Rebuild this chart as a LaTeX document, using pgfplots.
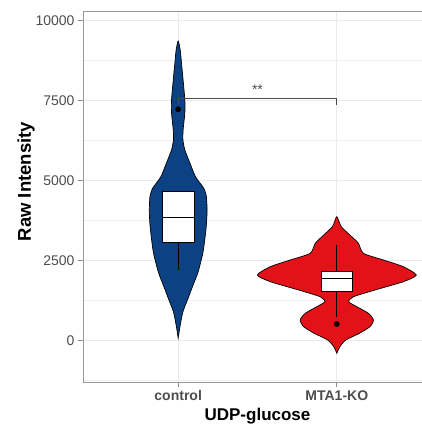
\documentclass[border=0pt]{standalone}
\usepackage{pgfplots}
\pgfplotsset{compat=1.18}
\usepackage{fontspec}
\setmainfont{Liberation Sans}
\definecolor{ctrlblue}{RGB}{12,66,132}
\definecolor{kored}{RGB}{226,18,24}
\definecolor{axisgray}{RGB}{77,77,77}
\definecolor{gridgray}{RGB}{235,235,235}
\begin{document}
\begin{tikzpicture}
\begin{axis}[
 scale only axis, width=349pt, height=371pt,
 xmin=0.4, xmax=2.6, ymin=-1290, ymax=10303,
 xtick={1,2}, xticklabels={control,MTA1-KO},
 ytick={0,2500,5000,7500,10000},
 minor ytick={-1250,1250,3750,6250,8750},
 grid=both,
 major grid style={gridgray, line width=0.8pt},
 minor grid style={gridgray!80, line width=0.6pt},
 tick pos=left,
 tick align=outside, major tick length=5pt, minor tick length=0pt,
 tick style={gray!90, line width=0.7pt},
 axis line style={gray!80, line width=0.7pt},
 /pgf/number format/assume math mode=true,
 /pgf/number format/1000 sep={},
 scaled y ticks=false,
 yticklabel style={font=\fontsize{14}{16}\selectfont, text=axisgray},
 xticklabel style={font=\fontsize{14}{16}\selectfont\bfseries, text=axisgray},
 xlabel={UDP-glucose}, ylabel={Raw Intensity},
 xlabel style={font=\fontsize{17}{19}\selectfont\bfseries},
 ylabel style={font=\fontsize{18.5}{20}\selectfont\bfseries, at={(axis description cs:-0.163,0.54)}, anchor=center},
]
% control violin
\addplot[fill=ctrlblue, draw=black, line width=0.7pt, smooth, tension=0.4] coordinates {
(1,84) (1.013,491) (1.030,906) (1.063,1334) (1.094,1741) (1.126,2156) (1.157,2781) (1.176,3522) (1.182,4031) (1.178,4500) (1.160,4772) (1.110,5116) (1.074,5553) (1.042,5959) (1.030,6272) (1.031,6584) (1.042,7116) (1.042,7522) (1.031,8147) (1.021,8669) (1.013,9081) (1,9366)
(0.987,9081) (0.979,8669) (0.969,8147) (0.958,7522) (0.958,7116) (0.969,6584) (0.970,6272) (0.958,5959) (0.926,5553) (0.890,5116) (0.840,4772) (0.822,4500) (0.818,4031) (0.824,3522) (0.843,2781) (0.874,2156) (0.906,1741) (0.937,1334) (0.970,906) (0.987,491) (1,84)
} -- cycle;
% MTA1-KO violin
\addplot[fill=kored, draw=black, line width=0.7pt, smooth, tension=0.4] coordinates {
(2,-394) (2.019,-188) (2.057,22) (2.142,231) (2.209,438) (2.231,647) (2.199,856) (2.126,1063) (2.075,1219) (2.105,1375) (2.240,1584) (2.419,1844) (2.501,2053) (2.419,2313) (2.294,2522) (2.168,2731) (2.136,3044) (2.094,3250) (2.028,3563) (2,3875)
(1.972,3563) (1.906,3250) (1.864,3044) (1.832,2731) (1.706,2522) (1.581,2313) (1.499,2053) (1.581,1844) (1.760,1584) (1.895,1375) (1.925,1219) (1.874,1063) (1.801,856) (1.769,647) (1.791,438) (1.858,231) (1.943,22) (1.981,-188) (2,-394)
} -- cycle;
% control box
\addplot[black, line width=0.7pt] coordinates {(1,2209) (1,3075)};
\addplot[fill=white, draw=black, line width=0.7pt] coordinates {(0.9,3075) (1.1,3075) (1.1,4656) (0.9,4656)} -- cycle;
\addplot[black, line width=1.4pt] coordinates {(0.9,3856) (1.1,3856)};
\addplot[only marks, mark=*, mark size=2.6pt, black] coordinates {(1,7231)};
% MTA1-KO box
\addplot[black, line width=0.7pt] coordinates {(2,750) (2,1531)};
\addplot[black, line width=0.7pt] coordinates {(2,2178) (2,2990)};
\addplot[fill=white, draw=black, line width=0.7pt] coordinates {(1.9,1531) (2.1,1531) (2.1,2178) (1.9,2178)} -- cycle;
\addplot[black, line width=1.6pt] coordinates {(1.9,1950) (2.1,1950)};
\addplot[only marks, mark=*, mark size=2.6pt, black] coordinates {(2,522)};
% significance bracket
\addplot[gray!60!black, line width=0.7pt] coordinates {(1,7360) (1,7560) (2,7560) (2,7360)};
\node[font=\fontsize{14}{15}\selectfont, text=axisgray, anchor=base] at (axis cs:1.5,7700) {**};
\end{axis}
\pgfresetboundingbox
\path (-83pt,-43pt) rectangle (339pt,382pt);
\end{tikzpicture}
\end{document}
